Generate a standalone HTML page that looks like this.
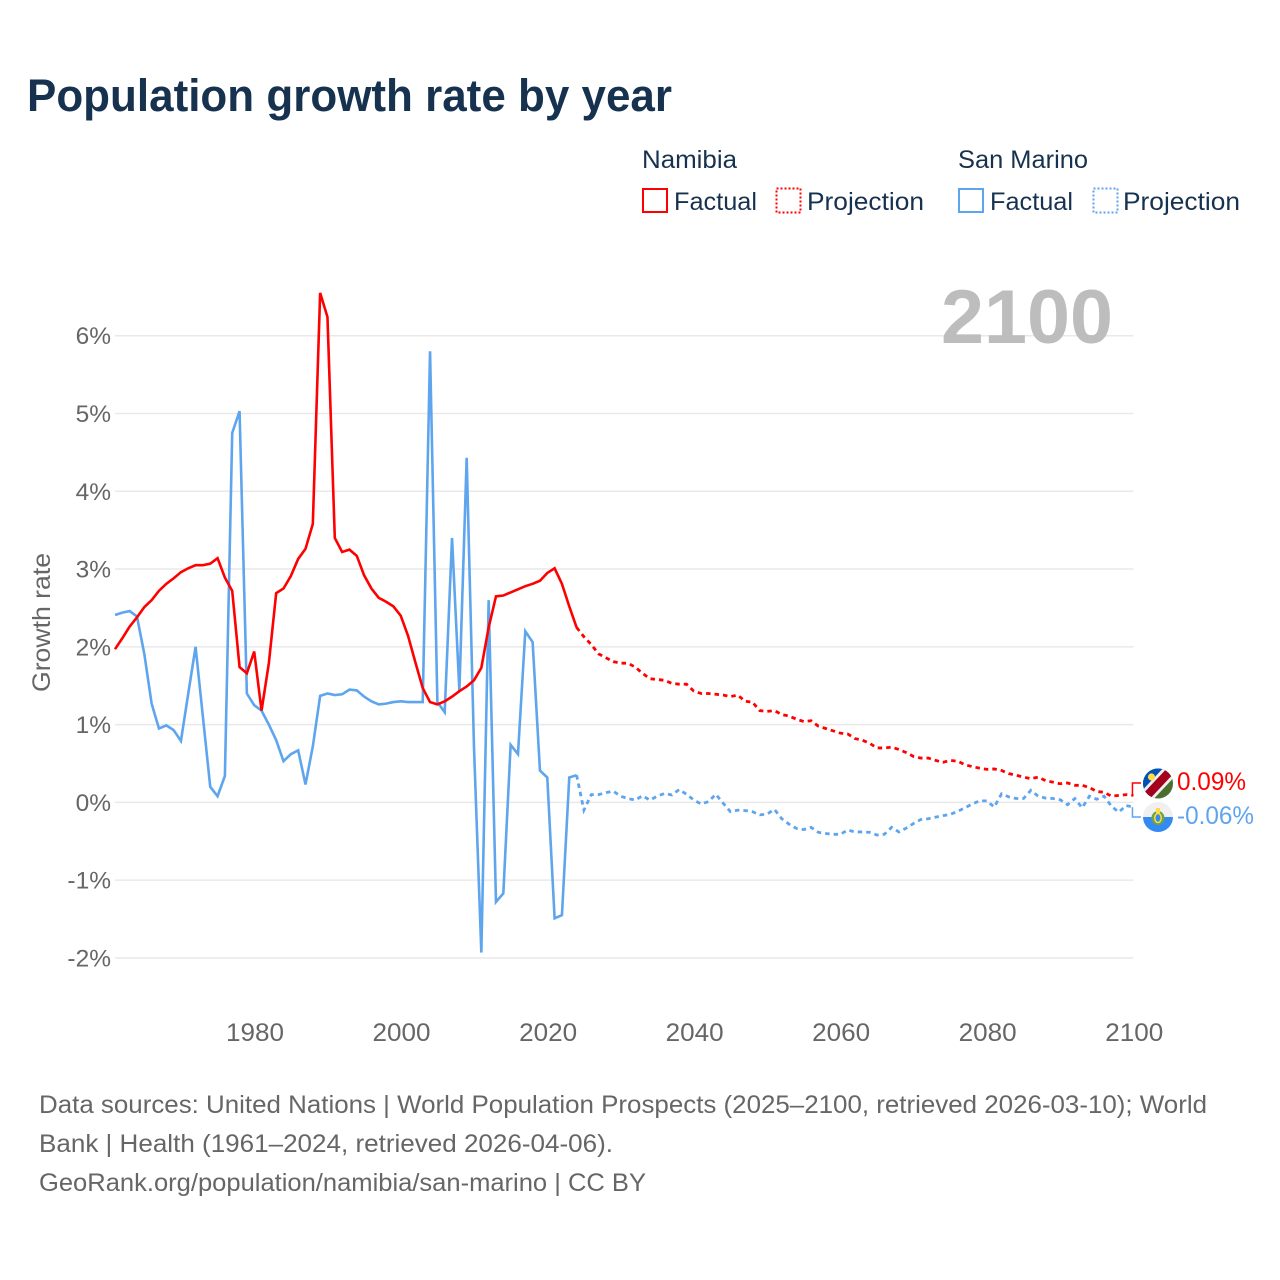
<!DOCTYPE html>
<html lang="en">
<head>
<meta charset="utf-8">
<title>Population growth rate by year</title>
<style>
html,body{margin:0;padding:0;background:#fff;width:1280px;height:1280px;overflow:hidden}
svg{display:block}
text{font-family:"Liberation Sans",sans-serif}
.navy{fill:#17324f}
.grey{fill:#666}
</style>
</head>
<body>
<svg id="chart" width="1280" height="1280" viewBox="0 0 1280 1280">
  <defs>
    <clipPath id="flag-clip-a"><circle cx="1158" cy="783.5" r="15"/></clipPath>
    <clipPath id="flag-clip-b"><circle cx="1158" cy="817" r="15"/></clipPath>
  </defs>
  <text x="27" y="111" font-size="45" font-weight="700" class="navy" textLength="645" lengthAdjust="spacingAndGlyphs">Population growth rate by year</text>

  <g font-size="25">
    <text x="642" y="168" class="navy" textLength="95" lengthAdjust="spacingAndGlyphs">Namibia</text>
    <text x="958" y="168" class="navy" textLength="130" lengthAdjust="spacingAndGlyphs">San Marino</text>
    <rect x="643" y="189" width="24" height="23" fill="none" stroke="#ff0000" stroke-width="2"/>
    <text x="674" y="210" class="navy" textLength="83" lengthAdjust="spacingAndGlyphs">Factual</text>
    <rect x="776.5" y="188.5" width="24" height="24" fill="none" stroke="#ff0000" stroke-width="2" stroke-dasharray="2 2"/>
    <text x="807" y="210" class="navy" textLength="117" lengthAdjust="spacingAndGlyphs">Projection</text>
    <rect x="959" y="189" width="24" height="23" fill="none" stroke="#5ea5ee" stroke-width="2"/>
    <text x="990" y="210" class="navy" textLength="83" lengthAdjust="spacingAndGlyphs">Factual</text>
    <rect x="1093.5" y="188.5" width="24" height="24" fill="none" stroke="#5ea5ee" stroke-width="2" stroke-dasharray="2 2"/>
    <text x="1123" y="210" class="navy" textLength="117" lengthAdjust="spacingAndGlyphs">Projection</text>
  </g>

  <g id="grid"></g>
  <text x="941" y="343" font-size="76" font-weight="700" fill="#bdbdbd" textLength="172" lengthAdjust="spacingAndGlyphs">2100</text>
  <g id="y-ticks" font-size="24.5" class="grey" text-anchor="end"></g>
  <g id="x-ticks" font-size="25" class="grey" text-anchor="middle"></g>
  <text transform="translate(50,692) rotate(-90)" font-size="25" class="grey" textLength="139" lengthAdjust="spacingAndGlyphs">Growth rate</text>
  <g id="series"></g>

  <g>
    <path id="conn-a" fill="none" stroke="#ff0000" stroke-width="1.5"/>
    <g clip-path="url(#flag-clip-a)">
      <rect x="1143" y="768" width="30" height="31" fill="#496e2d"/>
      <polygon points="1143,768 1173,768 1143,799" fill="#0052b4"/>
      <polygon points="1138,795 1168,763 1178,773 1148,805" fill="#f0f0f0"/>
      <polygon points="1140,797 1170,765 1176,771 1146,803" fill="#a2001d"/>
      <circle cx="1151.5" cy="777" r="3.6" fill="#ffda44"/>
    </g>
    <text x="1177" y="790" font-size="25" fill="#ff0000" textLength="69" lengthAdjust="spacingAndGlyphs">0.09%</text>
  </g>
  <g>
    <path id="conn-b" fill="none" stroke="#5ea5ee" stroke-width="1.5"/>
    <g clip-path="url(#flag-clip-b)">
      <rect x="1143" y="802" width="30" height="15" fill="#f0f0f0"/>
      <rect x="1143" y="817" width="30" height="15" fill="#338af3"/>
      <ellipse cx="1158" cy="818" rx="6.5" ry="7" fill="#6da544"/>
      <ellipse cx="1158" cy="818" rx="3.2" ry="4.5" fill="#338af3" stroke="#ffda44" stroke-width="1.5"/>
      <rect x="1156" y="808" width="4" height="5" fill="#ffda44"/>
    </g>
    <text x="1177" y="824" font-size="25" fill="#5ea5ee" textLength="77" lengthAdjust="spacingAndGlyphs">-0.06%</text>
  </g>

  <g font-size="25" class="grey">
    <text x="39" y="1113" textLength="1168" lengthAdjust="spacingAndGlyphs">Data sources: United Nations | World Population Prospects (2025–2100, retrieved 2026-03-10); World</text>
    <text x="39" y="1152" textLength="574" lengthAdjust="spacingAndGlyphs">Bank | Health (1961–2024, retrieved 2026-04-06).</text>
    <text x="39" y="1191" textLength="607" lengthAdjust="spacingAndGlyphs">GeoRank.org/population/namibia/san-marino | CC BY</text>
  </g>
</svg>
<script>
const firstYear = 1961;
const splitYear = 2024;
const yTickValues = [6, 5, 4, 3, 2, 1, 0, -1, -2];
const xTickValues = [1980, 2000, 2020, 2040, 2060, 2080, 2100];
const namibiaFactual = [
  1.97,2.11,2.26,2.38,2.51,2.60,2.72,2.81,2.88,2.96,
  3.01,3.05,3.05,3.07,3.14,2.89,2.72,1.74,1.66,1.94,
  1.18,1.79,2.69,2.75,2.91,3.13,3.26,3.58,6.55,6.24,
  3.40,3.22,3.25,3.17,2.92,2.75,2.63,2.58,2.52,2.40,
  2.14,1.80,1.47,1.29,1.26,1.30,1.36,1.43,1.49,1.57,
  1.73,2.25,2.65,2.66,2.70,2.74,2.78,2.81,2.85,2.95,
  3.01,2.81,2.52,2.25
];
const namibiaProjection = [
  2.25,2.13,2.03,1.91,1.86,1.81,1.79,1.79,1.74,1.66,
  1.59,1.58,1.57,1.53,1.52,1.52,1.43,1.40,1.40,1.39,
  1.38,1.36,1.38,1.30,1.29,1.18,1.17,1.18,1.13,1.11,
  1.07,1.04,1.05,0.98,0.95,0.92,0.89,0.88,0.82,0.80,
  0.76,0.70,0.70,0.71,0.68,0.64,0.59,0.57,0.57,0.54,
  0.515,0.54,0.53,0.485,0.46,0.44,0.425,0.43,0.41,0.37,
  0.35,0.325,0.305,0.325,0.28,0.26,0.24,0.25,0.22,0.22,
  0.19,0.14,0.13,0.08,0.09,0.10,0.09
];
const sanMarinoFactual = [
  2.41,2.44,2.46,2.39,1.91,1.27,0.95,0.99,0.93,0.79,
  1.40,2.00,1.10,0.20,0.08,0.34,4.75,5.03,1.40,1.25,
  1.18,1.00,0.80,0.53,0.62,0.67,0.23,0.72,1.37,1.40,
  1.38,1.39,1.45,1.44,1.36,1.30,1.26,1.27,1.29,1.30,
  1.29,1.29,1.29,5.80,1.29,1.16,3.40,1.44,4.43,0.70,
  -1.93,2.60,-1.28,-1.17,0.74,0.62,2.20,2.06,0.41,0.32,
  -1.49,-1.45,0.32,0.35
];
const sanMarinoProjection = [
  0.35,-0.10,0.10,0.10,0.125,0.145,0.08,0.05,0.03,0.085,
  0.03,0.08,0.115,0.095,0.165,0.105,0.03,-0.02,0.01,0.105,
  -0.01,-0.12,-0.10,-0.105,-0.12,-0.16,-0.15,-0.09,-0.21,-0.28,
  -0.335,-0.35,-0.32,-0.385,-0.40,-0.41,-0.41,-0.355,-0.38,-0.38,
  -0.385,-0.42,-0.41,-0.32,-0.38,-0.33,-0.27,-0.22,-0.21,-0.19,
  -0.17,-0.155,-0.115,-0.07,-0.02,0.02,0.02,-0.06,0.11,0.07,
  0.05,0.05,0.155,0.08,0.055,0.05,0.035,-0.03,0.05,-0.07,
  0.08,0.04,0.08,-0.05,-0.125,-0.04,-0.06
];

const SVGNS = 'http://www.w3.org/2000/svg';
function xScale(year){ return 254.2 + (year - 1980) * 7.327; }
function yScale(v){ return 802.4 - v * 77.78; }
function linePath(values, startYear){
  return values.map(function(v, i){
    return (i ? 'L' : 'M') + xScale(startYear + i).toFixed(2) + ' ' + yScale(v).toFixed(2);
  }).join('');
}

const gridG = document.getElementById('grid');
const yG = document.getElementById('y-ticks');
yTickValues.forEach(function(v){
  const ln = document.createElementNS(SVGNS, 'line');
  
  
  ln.setAttribute('x1', xScale(firstYear));
  ln.setAttribute('x2', xScale(2100));
  ln.setAttribute('y1', yScale(v));
  ln.setAttribute('y2', yScale(v));
  ln.setAttribute('stroke', '#e9e9e9');
  ln.setAttribute('stroke-width', '1.5');
  gridG.appendChild(ln);
  const t = document.createElementNS(SVGNS, 'text');
  
  
  t.setAttribute('x', 111);
  t.setAttribute('y', yScale(v) + 8.5);
  t.textContent = v + '%';
  yG.appendChild(t);
});

const xG = document.getElementById('x-ticks');
xTickValues.forEach(function(y){
  const t = document.createElementNS(SVGNS, 'text');
  
  
  t.setAttribute('x', xScale(y) + 0.8);
  t.setAttribute('y', 1041);
  t.setAttribute('textLength', 58);
  t.setAttribute('lengthAdjust', 'spacingAndGlyphs');
  t.textContent = y;
  xG.appendChild(t);
});

const seriesG = document.getElementById('series');
function addLine(name, values, startYear, color, dashed){
  const p = document.createElementNS(SVGNS, 'path');
  
  
  p.setAttribute('d', linePath(values, startYear));
  p.setAttribute('fill', 'none');
  p.setAttribute('stroke', color);
  p.setAttribute('stroke-width', dashed ? '2.8' : '2.6');
  p.setAttribute('stroke-linejoin', 'miter');
  if (dashed) p.setAttribute('stroke-dasharray', '4.5 4');
  seriesG.appendChild(p);
}
addLine('san-marino-factual-line', sanMarinoFactual, firstYear, '#5ea5ee', false);
addLine('san-marino-projection-line', sanMarinoProjection, splitYear, '#5ea5ee', true);
addLine('namibia-factual-line', namibiaFactual, firstYear, '#ff0000', false);
addLine('namibia-projection-line', namibiaProjection, splitYear, '#ff0000', true);

const endX = xScale(2100);
document.getElementById('conn-a').setAttribute('d', 'M' + endX + ' ' + yScale(namibiaProjection[namibiaProjection.length - 1]) + 'H' + (endX - 1) + 'V783H1141');
document.getElementById('conn-b').setAttribute('d', 'M' + (endX - 1) + ' ' + yScale(sanMarinoProjection[sanMarinoProjection.length - 1]) + 'V817H1141');
</script>
</body>
</html>
